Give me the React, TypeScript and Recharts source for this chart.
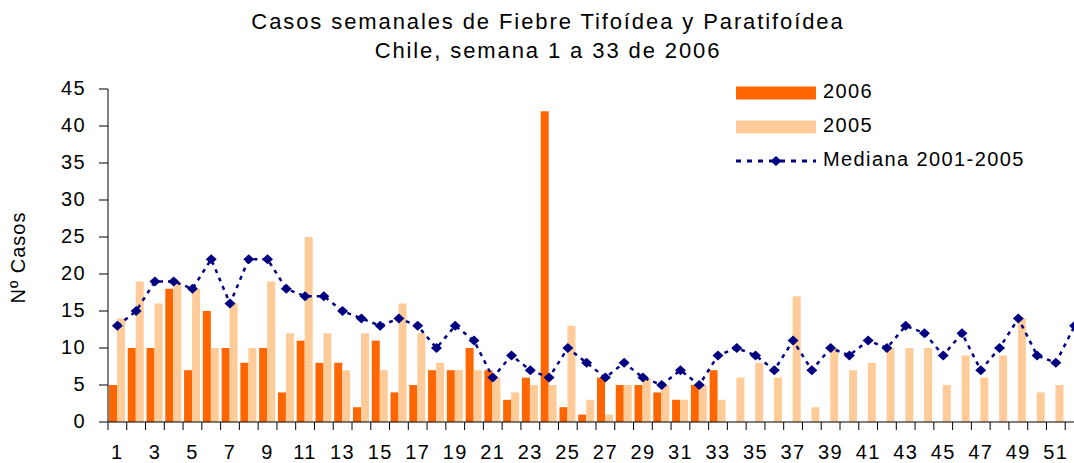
import { ComposedChart, Bar, Line, XAxis, YAxis, Legend } from 'recharts';

// semanas epidemiológicas
const semanas = [
  1, 2, 3, 4, 5, 6, 7, 8, 9, 10, 11, 12, 13, 14, 15, 16, 17, 18, 19, 20, 21, 22, 23, 24, 25, 26,
  27, 28, 29, 30, 31, 32, 33, 34, 35, 36, 37, 38, 39, 40, 41, 42, 43, 44, 45, 46, 47, 48, 49, 50, 51, 52,
];

// 2006 solo hasta semana 33
const casos2006 = [5, 10, 10, 18, 7, 15, 10, 8, 10, 4, 11, 8, 8, 2, 11, 4, 5, 7, 7, 10, 7, 3, 6, 42, 2, 1, 6, 5, 5, 4, 3, 5, 7];

const casos2005 = [
  14, 19, 16, 19, 18, 10, 16, 10, 19, 12, 25, 12, 7, 12, 7, 16, 12, 8, 7, 7, 6, 4, 5, 5, 13, 3,
  1, 5, 6, 5, 3, 5, 3, 6, 8, 6, 17, 2, 10, 7, 8, 10, 10, 10, 5, 9, 6, 9, 14, 4, 5, 12,
];

const mediana = [
  13, 15, 19, 19, 18, 22, 16, 22, 22, 18, 17, 17, 15, 14, 13, 14, 13, 10, 13, 11, 6, 9, 7, 6, 10, 8,
  6, 8, 6, 5, 7, 5, 9, 10, 9, 7, 11, 7, 10, 9, 11, 10, 13, 12, 9, 12, 7, 10, 14, 9, 8, 13,
];

const yTicks = [0, 5, 10, 15, 20, 25, 30, 35, 40, 45];

const legendOrder = ['a2006', 'a2005', 'mediana'];

const data = semanas.map((s, i) => ({
  semana: s,
  a2006: casos2006[i] ?? null,
  a2005: casos2005[i],
  mediana: mediana[i],
}));

const FONT = '"Liberation Sans", Arial, sans-serif';
const ORANGE = '#FF6600';
const PEACH = '#FFCC99';
const NAVY = '#000080';

const CHART_W = 1100;
const CHART_H = 463;
const PLOT_LEFT = 108;
const PLOT_RIGHT = 1084;
const PLOT_TOP = 89;
const PLOT_BOTTOM = 422;
const BAND = (PLOT_RIGHT - PLOT_LEFT) / semanas.length;

function Diamond({ cx, cy, w = 11, h = 10 }: { cx: number; cy: number; w?: number; h?: number }) {
  return (
    <polygon
      points={`${cx - w / 2},${cy} ${cx},${cy - h / 2} ${cx + w / 2},${cy} ${cx},${cy + h / 2}`}
      fill={NAVY}
    />
  );
}

function XTick(props: any) {
  const { x, y, payload } = props;
  const s = payload.value;
  return (
    <g>
      <line x1={x - BAND / 2} x2={x - BAND / 2} y1={y} y2={y + 8} stroke="#000" />
      {s % 2 === 1 && (
        <text x={x} y={y + 37} textAnchor="middle" fontSize={20} letterSpacing={1.4} fill="#000" fontFamily={FONT}>
          {s}
        </text>
      )}
    </g>
  );
}

function YTick(props: any) {
  const { x, y, payload } = props;
  return (
    <text x={x} y={y + 6} textAnchor="end" fontSize={20} letterSpacing={1.4} fill="#000" fontFamily={FONT}>
      {payload.value}
    </text>
  );
}

function YLabel(props: any) {
  const { viewBox } = props;
  const cy = viewBox.y + viewBox.height / 2 + 2;
  return (
    <text
      x={25}
      y={cy}
      transform={`rotate(-90, 25, ${cy})`}
      textAnchor="middle"
      fontSize={20}
      letterSpacing={1}
      fill="#000"
      fontFamily={FONT}
    >
      Nº Casos
    </text>
  );
}

function LegendBox(props: any) {
  const items = [...(props.payload || [])].sort(
    (a: any, b: any) => legendOrder.indexOf(a.dataKey) - legendOrder.indexOf(b.dataKey),
  );
  return (
    <div style={{ fontFamily: FONT, fontSize: 20, letterSpacing: 1.4, color: '#000' }}>
      {items.map((e: any) => (
        <div key={e.value} style={{ display: 'flex', alignItems: 'center', height: 34 }}>
          <svg width={80} height={14} style={{ marginRight: 7 }}>
            {e.dataKey === 'mediana' ? (
              <>
                <line x1={0} x2={80} y1={7} y2={7} stroke={NAVY} strokeWidth={3} strokeDasharray="5 6" />
                <Diamond cx={40} cy={7} />
              </>
            ) : (
              <rect x={0} y={0.5} width={80} height={13} fill={e.color} />
            )}
          </svg>
          <span style={{ lineHeight: '20px', marginTop: -3 }}>{e.value}</span>
        </div>
      ))}
    </div>
  );
}

export default function App() {
  return (
    <div
      style={{
        position: 'absolute',
        left: 0,
        top: 0,
        width: 1074,
        height: 463,
        overflow: 'hidden',
        background: '#fff',
        fontFamily: FONT,
      }}
    >
      <div
        style={{
          position: 'absolute',
          left: 0,
          top: 7,
          width: 1096,
          textAlign: 'center',
          fontSize: 22,
          lineHeight: '29px',
          letterSpacing: 1.9,
          color: '#000',
        }}
      >
        <div>Casos semanales de Fiebre Tifoídea y Paratifoídea</div>
        <div>Chile, semana 1 a 33 de 2006</div>
      </div>
      <ComposedChart
        width={CHART_W}
        height={CHART_H}
        data={data}
        margin={{ top: PLOT_TOP, right: CHART_W - PLOT_RIGHT, left: 0, bottom: 0 }}
        barCategoryGap={1}
        barGap={0}
      >
        <XAxis
          dataKey="semana"
          interval={0}
          height={CHART_H - PLOT_BOTTOM}
          tickSize={0}
          tickMargin={0}
          tickLine={false}
          axisLine={{ stroke: '#000' }}
          tick={<XTick />}
        />
        <YAxis
          width={PLOT_LEFT}
          domain={[0, 45]}
          ticks={yTicks}
          interval={0}
          tickSize={9}
          tickMargin={13}
          tickLine={{ stroke: '#000' }}
          axisLine={{ stroke: '#000' }}
          tick={<YTick />}
          label={<YLabel />}
        />
        <Legend
          layout="vertical"
          align="center"
          verticalAlign="middle"
          content={<LegendBox />}
          wrapperStyle={{ left: 736, top: 75.5, width: 330 }}
        />
        <Bar dataKey="a2006" name="2006" fill={ORANGE} isAnimationActive={false} />
        <Bar dataKey="a2005" name="2005" fill={PEACH} isAnimationActive={false} />
        <Line
          dataKey="mediana"
          name="Mediana 2001-2005"
          type="linear"
          stroke={NAVY}
          strokeWidth={2.5}
          strokeDasharray="4 5"
          dot={(p: any) => <Diamond key={`m-${p.index}`} cx={p.cx} cy={p.cy} />}
          activeDot={false}
          isAnimationActive={false}
        />
      </ComposedChart>
    </div>
  );
}
